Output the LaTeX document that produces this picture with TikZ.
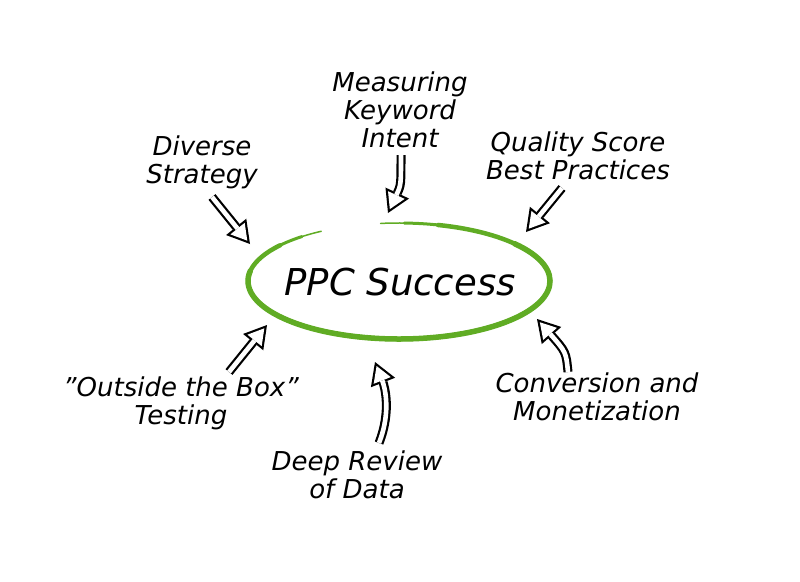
\documentclass[tikz,border=0pt]{standalone}
\usepackage{fontspec}
\setmainfont{DejaVu Sans}
\usetikzlibrary{arrows.meta}
\definecolor{ringgreen}{RGB}{96,172,36}
\tikzset{
  lbl/.style={font=\itshape\fontsize{26}{28}\selectfont,align=center,inner sep=0pt},
  hollow/.style={line width=9pt,-{Triangle[length=22pt,width=26pt,line width=0pt]},
    postaction={draw=white,line width=4.6pt,shorten >=4.3pt,-{Triangle[length=15.5pt,width=18.3pt,line width=0pt]}}}
}
\begin{document}
\begin{tikzpicture}[x=1pt,y=-1pt,line join=miter]
\useasboundingbox[fill=white] (0,0) rectangle (800,581);
\node[lbl,font=\itshape\fontsize{37}{40}\selectfont] (succ) at (400,282) {PPC Success};
\node[lbl] (meas) at (400,110) {Measuring\\Keyword\\Intent};
\node[lbl] (div) at (202,162) {Diverse\\Strategy};
\node[lbl] (qual) at (578,156) {Quality Score\\Best Practices};
\node[lbl] (outs) at (181,403) {"Outside the Box"\\Testing};
\node[lbl] (conv) at (597,397) {Conversion and\\Monetization};
\node[lbl] (deep) at (357,475) {Deep Review\\of Data};
\draw[ringgreen,line width=1.5pt,line cap=round] ([shift={(263:151 and 58)}]399,281) arc[start angle=263,end angle=599,x radius=151,y radius=58];
\draw[ringgreen,line width=3pt,line cap=round] ([shift={(272:151 and 58)}]399,281) arc[start angle=272,end angle=590,x radius=151,y radius=58];
\draw[ringgreen,line width=4.5pt,line cap=round] ([shift={(285:151 and 58)}]399,281) arc[start angle=285,end angle=578,x radius=151,y radius=58];
\draw[ringgreen,line width=5.5pt,line cap=round] ([shift={(320:151 and 58)}]399,281) arc[start angle=320,end angle=550,x radius=151,y radius=58];
\coordinate (divtail) at (212,197);
\coordinate (divtip) at (250,244);
\coordinate (meastail) at (401,155);
\coordinate (meastip) at (388,213);
\coordinate (qualtail) at (562,188);
\coordinate (qualtip) at (526,232);
\coordinate (outstail) at (229,372);
\coordinate (outstip) at (267,325);
\coordinate (deeptail) at (379,443);
\coordinate (deeptip) at (375,362);
\coordinate (convtail) at (568,372);
\coordinate (convtip) at (537,319);
\draw[hollow] (divtail) -- (divtip);
\draw[hollow] (meastail) .. controls (401,185) .. (meastip);
\draw[hollow] (qualtail) -- (qualtip);
\draw[hollow] (outstail) -- (outstip);
\draw[hollow] (deeptail) .. controls (392,410) and (384,385) .. (deeptip);
\draw[hollow] (convtail) .. controls (566,352) .. (convtip);
\end{tikzpicture}
\end{document}
